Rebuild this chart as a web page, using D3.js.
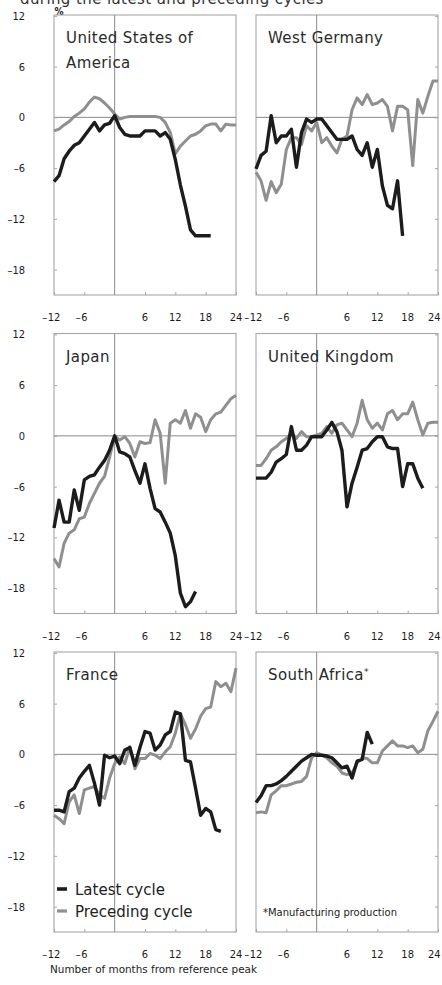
<!DOCTYPE html>
<html>
<head>
<meta charset="utf-8">
<script src="https://cdn.jsdelivr.net/npm/d3@7/dist/d3.min.js"></script>
<style>
  html, body { margin: 0; padding: 0; background: #fff; }
  svg { display: block; }
</style>
</head>
<body>
<svg id="chart" width="442" height="985"></svg>
<script>
// Months from the reference peak (x categories)
const MONTHS = [-12, -11, -10, -9, -8, -7, -6, -5, -4, -3, -2, -1, 0, 1, 2, 3, 4, 5, 6,
                7, 8, 9, 10, 11, 12, 13, 14, 15, 16, 17, 18, 19, 20, 21, 22, 23, 24];
const X_TICKS = [-12, -6, 6, 12, 18, 24];
const Y_TICKS = [12, 6, 0, -6, -12, -18];

// Percentage change in output relative to the reference peak, month by month from -12
const usLatest     = [-7.6, -6.9, -4.9, -4.0, -3.3, -3.0, -2.2, -1.4, -0.6, -1.6, -0.9, -0.7, 0.2, -1.2, -2.0, -2.2, -2.2, -2.2, -1.6, -1.6, -1.6, -2.2, -1.8, -2.6, -5.0, -8.0, -10.5, -13.3, -14.0, -14.0, -14.0, -14.0];
const usPreceding  = [-1.6, -1.4, -0.9, -0.5, 0.1, 0.5, 1.0, 1.8, 2.4, 2.2, 1.7, 1.1, 0.4, -0.2, 0.0, 0.1, 0.1, 0.1, 0.1, 0.1, 0.1, 0.0, -0.6, -1.8, -4.3, -3.4, -2.8, -2.2, -2.0, -1.6, -1.0, -0.8, -0.8, -1.6, -0.8, -0.9, -0.9];

const deLatest     = [-6.1, -4.5, -4.0, 0.2, -3.0, -2.2, -2.2, -1.4, -5.9, -1.8, -0.2, -0.6, -0.2, -0.2, -1.0, -1.8, -2.6, -2.6, -2.6, -2.2, -3.8, -4.5, -3.0, -5.9, -3.8, -8.1, -10.4, -10.8, -7.5, -14.0];
const dePreceding  = [-6.5, -7.5, -9.8, -7.6, -8.9, -7.9, -3.8, -2.4, -2.4, -3.2, -1.0, -1.6, -0.6, -3.0, -2.4, -3.4, -4.2, -2.6, -2.2, 0.9, 2.3, 1.5, 2.7, 1.5, 1.7, 2.1, 1.3, -1.6, 1.3, 1.3, 0.9, -5.7, 2.1, 0.5, 2.5, 4.3, 4.3];

const jpLatest     = [-10.9, -7.6, -10.2, -10.2, -6.4, -8.8, -5.2, -4.8, -4.6, -3.7, -2.9, -1.7, 0.0, -1.9, -2.1, -2.5, -4.1, -5.6, -3.3, -6.2, -8.6, -9.0, -10.2, -11.5, -14.2, -18.6, -20.2, -19.6, -18.4];
const jpPreceding  = [-14.5, -15.5, -12.7, -11.5, -11.1, -9.8, -9.6, -8.0, -6.8, -5.6, -4.8, -2.5, 0.0, -0.5, -0.1, -0.9, -2.5, -0.7, -0.9, -0.8, 1.9, 0.3, -5.6, 1.5, 1.9, 1.5, 3.0, 0.9, 2.6, 2.2, 0.5, 1.9, 2.6, 2.8, 3.6, 4.4, 4.8];

const ukLatest     = [-5.0, -5.0, -5.0, -4.3, -3.1, -2.7, -2.2, 1.1, -1.7, -1.7, -1.1, -0.1, -0.1, -0.1, 0.7, 1.6, 0.5, -1.7, -8.4, -5.6, -3.7, -1.7, -1.5, -0.7, -0.1, -0.1, -1.3, -1.5, -1.5, -6.0, -3.3, -3.3, -5.0, -6.2];
const ukPreceding  = [-3.5, -3.5, -2.7, -1.7, -1.3, -0.7, -0.3, 0.3, -0.3, 0.5, -0.1, -0.1, 0.1, 0.3, 1.1, 0.3, 1.3, 1.5, 0.7, -0.1, 1.5, 4.2, 1.9, 0.9, 1.5, 0.7, 2.6, 3.0, 1.9, 2.6, 2.6, 4.0, 1.9, 0.1, 1.5, 1.6, 1.6];

const frLatest     = [-6.6, -6.6, -6.8, -4.4, -4.0, -2.8, -2.0, -1.3, -3.4, -6.0, -0.1, -0.4, -0.2, -1.1, 0.5, 0.8, -1.3, 0.8, 2.7, 2.5, 0.5, 1.1, 2.3, 2.7, 5.0, 4.8, -0.7, -0.9, -4.0, -7.2, -6.4, -6.8, -8.9, -9.1];
const frPreceding  = [-7.2, -7.6, -8.2, -5.6, -4.8, -7.0, -4.2, -4.0, -3.8, -4.8, -5.2, -2.8, -1.1, -0.3, -1.1, 0.9, -1.7, -0.5, -0.5, 0.1, -0.1, -0.5, 0.3, 0.9, 2.5, 4.8, 3.5, 1.9, 3.0, 4.5, 5.4, 5.6, 8.6, 8.0, 8.4, 7.4, 10.2];

const saLatest     = [-5.7, -4.9, -3.7, -3.7, -3.5, -3.1, -2.6, -2.0, -1.4, -0.8, -0.4, 0.0, -0.1, -0.1, -0.2, -0.4, -1.0, -1.6, -1.4, -2.8, -0.8, -0.6, 2.6, 1.2];
const saPreceding  = [-6.9, -6.8, -6.9, -4.8, -4.3, -3.7, -3.7, -3.5, -3.3, -3.2, -2.6, -0.4, 0.2, -0.1, -0.4, -1.0, -1.4, -2.2, -2.4, -2.2, -1.0, -0.4, -0.5, -1.0, -1.0, 0.4, 1.0, 1.6, 1.0, 1.0, 0.8, 1.0, 0.2, 0.6, 2.8, 3.9, 5.1];

const countries = [
  { title: ["United States of", "America"], latest: usLatest, preceding: usPreceding, col: 0, row: 0 },
  { title: ["West Germany"],                latest: deLatest, preceding: dePreceding, col: 1, row: 0 },
  { title: ["Japan"],                       latest: jpLatest, preceding: jpPreceding, col: 0, row: 1 },
  { title: ["United Kingdom"],              latest: ukLatest, preceding: ukPreceding, col: 1, row: 1 },
  { title: ["France"],                      latest: frLatest, preceding: frPreceding, col: 0, row: 2, legend: true },
  { title: ["South Africa"], star: true,    latest: saLatest, preceding: saPreceding, col: 1, row: 2, note: "*Manufacturing production" }
];

// Layout
const W = 442;
const COL_X = [54, 256];
const ROW_Y = [15, 333.5, 652];
const PW = 182, PH = 280;
const BLACK = "#1c1c1c", GREY = "#8f8f8f";
const FRAME = "#a6a6a6", RULE = "#8a8a8a";
const NUM_FONT = "'Liberation Sans Narrow', 'DejaVu Sans Condensed', sans-serif";
const TXT_FONT = "'DejaVu Sans', sans-serif";

const svg = d3.select("#chart");
svg.append("rect").attr("width", W).attr("height", 985).attr("fill", "#fff");

// Heading line running off the top edge
svg.append("text")
  .attr("x", 20).attr("y", 3.5)
  .attr("font-family", TXT_FONT).attr("font-size", 15).attr("letter-spacing", 0.4).attr("fill", "#333")
  .text("during the latest and preceding cycles");

svg.append("text")
  .attr("x", 59).attr("y", 15).attr("text-anchor", "middle")
  .attr("font-family", NUM_FONT).attr("font-size", 10).attr("font-weight", "bold").attr("fill", "#222")
  .text("%");

// Number label: digits centred on the tick, minus sign hanging to the left
function numLabel(g, value, x, y, anchor) {
  const t = g.append("text")
    .attr("x", x).attr("y", y)
    .attr("font-family", NUM_FONT).attr("font-size", 11).attr("fill", "#1a1a1a")
    .attr("text-anchor", anchor);
  if (anchor === "middle" && value < 0) {
    t.text(String(Math.abs(value)));
    const w = t.node().getComputedTextLength();
    g.append("text")
      .attr("x", x - w / 2 - 0.5).attr("y", y)
      .attr("font-family", NUM_FONT).attr("font-size", 11).attr("fill", "#1a1a1a")
      .attr("text-anchor", "end")
      .text("\u2013");
  } else {
    t.text(value < 0 ? "\u2013" + Math.abs(value) : String(value));
    if (anchor === "middle") {
      // keep the last label inside the page
      const w = t.node().getComputedTextLength();
      if (x + w / 2 > W - 1.5) t.attr("x", W - 1.5).attr("text-anchor", "end");
    }
  }
}

countries.forEach(c => {
  const x0 = COL_X[c.col], y0 = ROW_Y[c.row];
  const x = d3.scaleLinear().domain([-12, 24]).range([x0, x0 + PW]);
  const y = d3.scaleLinear().domain([-21, 12.1]).range([y0 + PH, y0]);
  const g = svg.append("g");

  // frame
  g.append("rect")
    .attr("x", x0).attr("y", y0).attr("width", PW).attr("height", PH)
    .attr("fill", "none").attr("stroke", FRAME).attr("stroke-width", 1.1);

  // reference lines: zero change and the reference peak
  g.append("line")
    .attr("x1", x0).attr("x2", x0 + PW).attr("y1", y(0)).attr("y2", y(0))
    .attr("stroke", RULE).attr("stroke-width", 1);
  g.append("line")
    .attr("x1", x(0)).attr("x2", x(0)).attr("y1", y0).attr("y2", y0 + PH)
    .attr("stroke", RULE).attr("stroke-width", 1);

  // inner tick marks
  const xAxis = d3.axisBottom(x).tickValues(X_TICKS).tickSize(-3).tickFormat("");
  const ax = g.append("g").attr("transform", `translate(0,${y0 + PH})`).call(xAxis);
  ax.select(".domain").remove();
  ax.selectAll(".tick line").attr("stroke", FRAME);

  const yAxis = c.col === 0
    ? d3.axisLeft(y).tickValues(Y_TICKS).tickSize(-3).tickFormat("")
    : d3.axisRight(y).tickValues(Y_TICKS).tickSize(-3).tickFormat("");
  const ay = g.append("g").attr("transform", `translate(${c.col === 0 ? x0 : x0 + PW},0)`).call(yAxis);
  ay.select(".domain").remove();
  ay.selectAll(".tick line").attr("stroke", FRAME);

  // series
  const line = d3.line()
    .x((d, i) => x(MONTHS[i]))
    .y(d => y(d));
  g.append("path").datum(c.preceding)
    .attr("d", line).attr("fill", "none")
    .attr("stroke", GREY).attr("stroke-width", 3)
    .attr("stroke-linejoin", "round").attr("stroke-linecap", "butt");
  g.append("path").datum(c.latest)
    .attr("d", line).attr("fill", "none")
    .attr("stroke", BLACK).attr("stroke-width", 3.4)
    .attr("stroke-linejoin", "round").attr("stroke-linecap", "butt");

  // country name
  const tt = g.append("text")
    .attr("x", x0 + 12).attr("y", y0 + 28)
    .attr("font-family", TXT_FONT).attr("font-size", 15).attr("letter-spacing", 0.4)
    .attr("fill", "#2a2a2a");
  c.title.forEach((s, i) => {
    tt.append("tspan").attr("x", x0 + 12).attr("dy", i === 0 ? 0 : 25).text(s);
  });
  if (c.star) {
    tt.append("tspan").attr("font-size", 9).attr("dy", -5).text("*");
  }

  // x tick labels
  X_TICKS.forEach(v => numLabel(g, v, x(v), y0 + PH + 26, "middle"));

  // y tick labels on the left column only
  if (c.col === 0) {
    Y_TICKS.forEach(v => numLabel(g, v, 25, y(v) + 4, "end"));
  }

  // legend
  if (c.legend) {
    const items = [["Latest cycle", BLACK, 3.6], ["Preceding cycle", GREY, 3.2]];
    items.forEach(([label, col, w], i) => {
      const ly = y0 + 237 + i * 22;
      g.append("line")
        .attr("x1", x0 + 3).attr("x2", x0 + 13).attr("y1", ly).attr("y2", ly)
        .attr("stroke", col).attr("stroke-width", w);
      g.append("text")
        .attr("x", x0 + 21).attr("y", ly + 5.5)
        .attr("font-family", TXT_FONT).attr("font-size", 15).attr("fill", "#222")
        .text(label);
    });
  }

  // footnote
  if (c.note) {
    g.append("text")
      .attr("x", x0 + 7).attr("y", y0 + 264)
      .attr("font-family", "'DejaVu Sans Condensed', 'DejaVu Sans', sans-serif")
      .attr("font-size", 10).attr("fill", "#222")
      .attr("textLength", 134).attr("lengthAdjust", "spacingAndGlyphs")
      .text(c.note);
  }
});

// x-axis caption
svg.append("text")
  .attr("x", 50).attr("y", 973)
  .attr("font-family", "'DejaVu Sans Condensed', 'DejaVu Sans', sans-serif")
  .attr("font-size", 10.5).attr("fill", "#222")
  .attr("textLength", 207).attr("lengthAdjust", "spacingAndGlyphs")
  .text("Number of months from reference peak");
</script>
</body>
</html>
